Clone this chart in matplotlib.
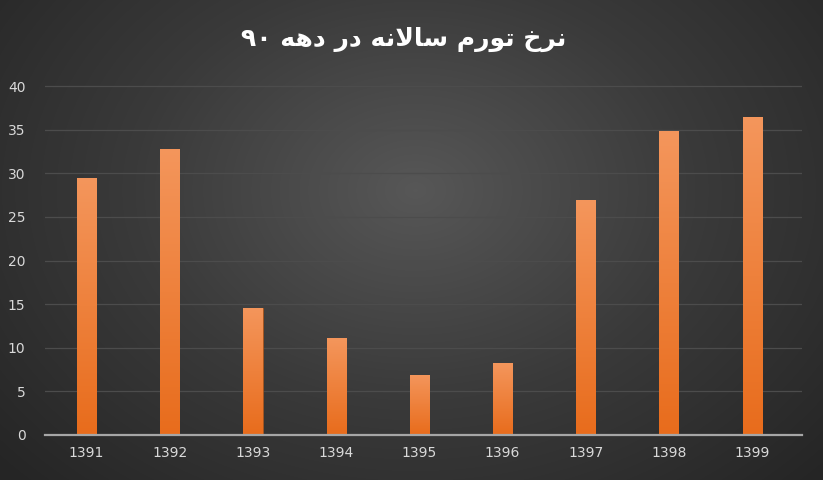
import numpy as np
import matplotlib.pyplot as plt
from matplotlib.colors import LinearSegmentedColormap

# data
years = ['1391', '1392', '1393', '1394', '1395', '1396', '1397', '1398', '1399']
inflation = [29.5, 32.8, 14.6, 11.1, 6.9, 8.2, 26.9, 34.8, 36.4]
yticks = [0, 5, 10, 15, 20, 25, 30, 35, 40]

# title "نرخ تورم سالانه در دهه ۹۰" in shaped presentation forms, visual order
words = [
    '\u06F9\u06F0',                    # ۹۰
    '\uFEEA\uFEEB\uFEA9',              # دهه
    '\uFEAD\uFEA9',                    # در
    '\uFEEA\uFEE7\uFEFB\uFE8E\uFEB3',  # سالانه
    '\uFEE1\uFEAD\uFEEE\uFE97',        # تورم
    '\uFEA5\uFEAE\uFEE7',              # نرخ
]
title = ' '.join(words)

fig = plt.figure(figsize=(8.23, 4.80), dpi=100)

# radial background
bg = fig.add_axes([0, 0, 1, 1], zorder=-10)
yy, xx = np.mgrid[0:480, 0:823]
r = np.sqrt(((xx - 415) / 560.0) ** 2 + ((yy - 190) / 420.0) ** 2)
bg_cmap = LinearSegmentedColormap.from_list('bg', ['#575757', '#3a3a3a', '#252525'])
bg.imshow(np.clip(r, 0, 1), cmap=bg_cmap, vmin=0, vmax=1, aspect='auto')
bg.axis('off')

ax = fig.add_axes([45 / 823, 45 / 480, 757 / 823, (435 - 45) / 480])
ax.set_facecolor('none')
x = np.arange(len(years))
bars = ax.bar(x, inflation, width=0.23, color='#f08030', edgecolor='#a9521a',
              linewidth=0.5, zorder=3)

bar_cmap = LinearSegmentedColormap.from_list('bar', ['#e86c1c', '#f4965c'])
grad = np.linspace(0, 1, 512).reshape(-1, 1)
for b in bars:
    x0, y0 = b.get_x(), b.get_y()
    im = ax.imshow(grad, cmap=bar_cmap, origin='lower', aspect='auto',
                   interpolation='bilinear',
                   extent=[x0, x0 + b.get_width(), y0, y0 + b.get_height()],
                   zorder=3.5)
    im.set_clip_path(b)

ax.set_xlim(-0.5, 8.6)
ax.set_ylim(0, 44.7)
ax.set_yticks(yticks)
ax.set_xticks(x)
ax.set_xticklabels(years)
ax.tick_params(colors='#d9d9d9', labelsize=10, length=0, pad=8)
ax.tick_params(axis='y', pad=14)
for s in ['top', 'right', 'left']:
    ax.spines[s].set_visible(False)
ax.spines['bottom'].set_color('#a6a6a6')
ax.spines['bottom'].set_linewidth(1.6)
ax.spines['bottom'].set_zorder(5)
ax.grid(axis='y', color='#4c4c4c', linewidth=0.9, zorder=0)
ax.set_axisbelow(True)

fig.text(0.49, 0.918, title, ha='center', va='center', color='white',
         fontsize=18, fontweight='bold', family='DejaVu Sans')

fig.savefig('out.png', dpi=100)
